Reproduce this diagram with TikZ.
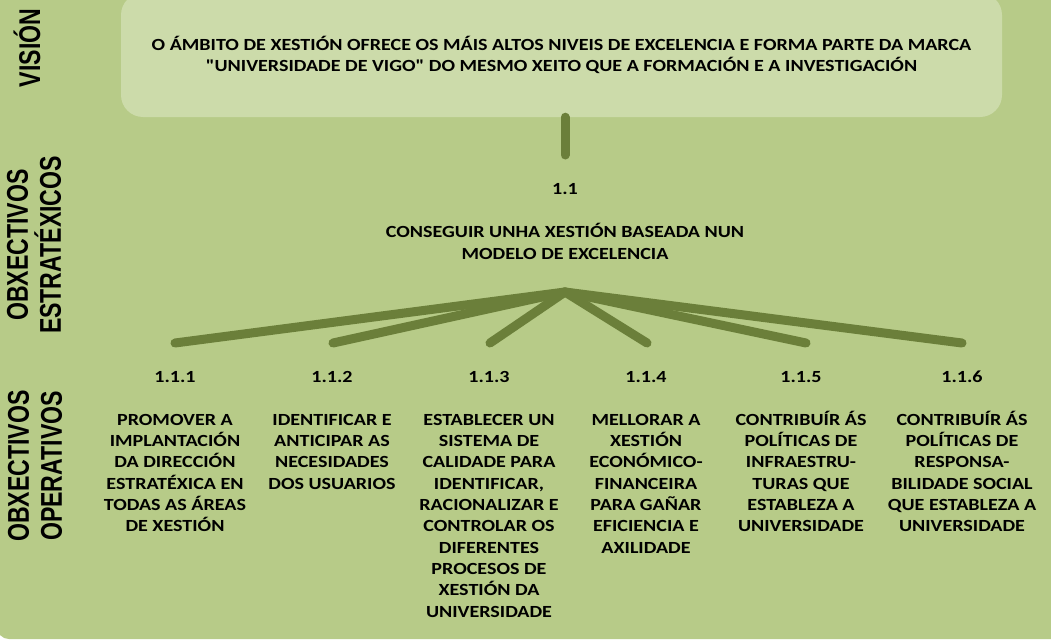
\documentclass[tikz,border=0pt]{standalone}
\usepackage{fontspec}
\usepackage{xcolor}
\usepackage{tikz}
\usetikzlibrary{positioning, calc}
\setmainfont{Carlito}[FakeStretch=1.18, Ligatures=TeXOff]
\newfontfamily\sidefamily[FakeStretch=0.77]{Liberation Sans}
\definecolor{bggreen}{RGB}{183, 203, 136}
\definecolor{visiongreen}{RGB}{204, 219, 170}
\definecolor{branchgreen}{RGB}{107, 127, 58}
\newcommand{\goalfont}{\fontsize{17}{21.3}\selectfont\bfseries}
\newcommand{\sidefont}{\sidefamily\fontsize{30}{33}\selectfont\bfseries}

\begin{document}
\begin{tikzpicture}[
    x=1pt, y=-1pt,
    visionbox/.style={fill=visiongreen, rounded corners=22pt, minimum width=881pt, minimum height=124pt, align=center, font=\goalfont},
    sidelabel/.style={rotate=90, align=center, font=\sidefont, inner sep=0pt},
    num/.style={font=\goalfont, inner sep=0pt, text height=11pt, text depth=0pt},
    goal/.style={font=\goalfont, align=center, inner sep=0pt},
    branch/.style={draw=branchgreen, line width=9pt, line cap=round}
]
    \useasboundingbox (0,0) rectangle (1051,642);
    \fill[bggreen, rounded corners=12pt] (-3,-40) rectangle (1080,639);

    % Side labels
    \node[sidelabel] (lvision) at (27,48) {VISIÓN};
    \node[sidelabel] (lstrat) at (34,245) {OBXECTIVOS\\ESTRATÉXICOS};
    \node[sidelabel] (loper) at (35,466) {OBXECTIVOS\\OPERATIVOS};

    % Vision
    \node[visionbox] (vision) at (561.5,55) {O ÁMBITO DE XESTIÓN OFRECE OS MÁIS ALTOS NIVEIS DE EXCELENCIA E FORMA PARTE DA MARCA\\"UNIVERSIDADE DE VIGO" DO MESMO XEITO QUE A FORMACIÓN E A INVESTIGACIÓN};

    % Strategic goal
    \node[num] (n11) at (565,189) {1.1};
    \node[goal, below=28pt of n11] (strat) {\strut CONSEGUIR UNHA XESTIÓN BASEADA NUN\\MODELO DE EXCELENCIA};
    \coordinate (stem) at (565,155);
    \coordinate (apex) at (565,292);

    % Operative goals
    \node[num] (n111) at (175,377) {1.1.1};
    \node[num] (n112) at (332,377) {1.1.2};
    \node[num] (n113) at (489,377) {1.1.3};
    \node[num] (n114) at (646,377) {1.1.4};
    \node[num] (n115) at (801,377) {1.1.5};
    \node[num] (n116) at (962,377) {1.1.6};
    \node[goal, below=27.5pt of n111] (g111) {\strut PROMOVER A\\IMPLANTACIÓN\\DA DIRECCIÓN\\ESTRATÉXICA EN\\TODAS AS ÁREAS\\DE XESTIÓN};
    \node[goal, below=27.5pt of n112] (g112) {\strut IDENTIFICAR E\\ANTICIPAR AS\\NECESIDADES\\DOS USUARIOS};
    \node[goal, below=27.5pt of n113] (g113) {\strut ESTABLECER UN\\SISTEMA DE\\CALIDADE PARA\\IDENTIFICAR,\\RACIONALIZAR E\\CONTROLAR OS\\DIFERENTES\\PROCESOS DE\\XESTIÓN DA\\UNIVERSIDADE};
    \node[goal, below=27.5pt of n114] (g114) {\strut MELLORAR A\\XESTIÓN\\ECONÓMICO-\\FINANCEIRA\\PARA GAÑAR\\EFICIENCIA E\\AXILIDADE};
    \node[goal, below=27.5pt of n115] (g115) {\strut CONTRIBUÍR ÁS\\POLÍTICAS DE\\INFRAESTRU-\\TURAS QUE\\ESTABLEZA A\\UNIVERSIDADE};
    \node[goal, below=27.5pt of n116] (g116) {\strut CONTRIBUÍR ÁS\\POLÍTICAS DE\\RESPONSA-\\BILIDADE SOCIAL\\QUE ESTABLEZA A\\UNIVERSIDADE};
    \coordinate (e111) at (175,343);
    \coordinate (e112) at (333,343);
    \coordinate (e113) at (490,343);
    \coordinate (e114) at (647,343);
    \coordinate (e115) at (806,343);
    \coordinate (e116) at (962,343);

    % Branches
    \draw[branch] (vision.south -| stem) -- (stem);
    \draw[branch] (apex) -- (e111);
    \draw[branch] (apex) -- (e112);
    \draw[branch] (apex) -- (e113);
    \draw[branch] (apex) -- (e114);
    \draw[branch] (apex) -- (e115);
    \draw[branch] (apex) -- (e116);
\end{tikzpicture}
\end{document}
